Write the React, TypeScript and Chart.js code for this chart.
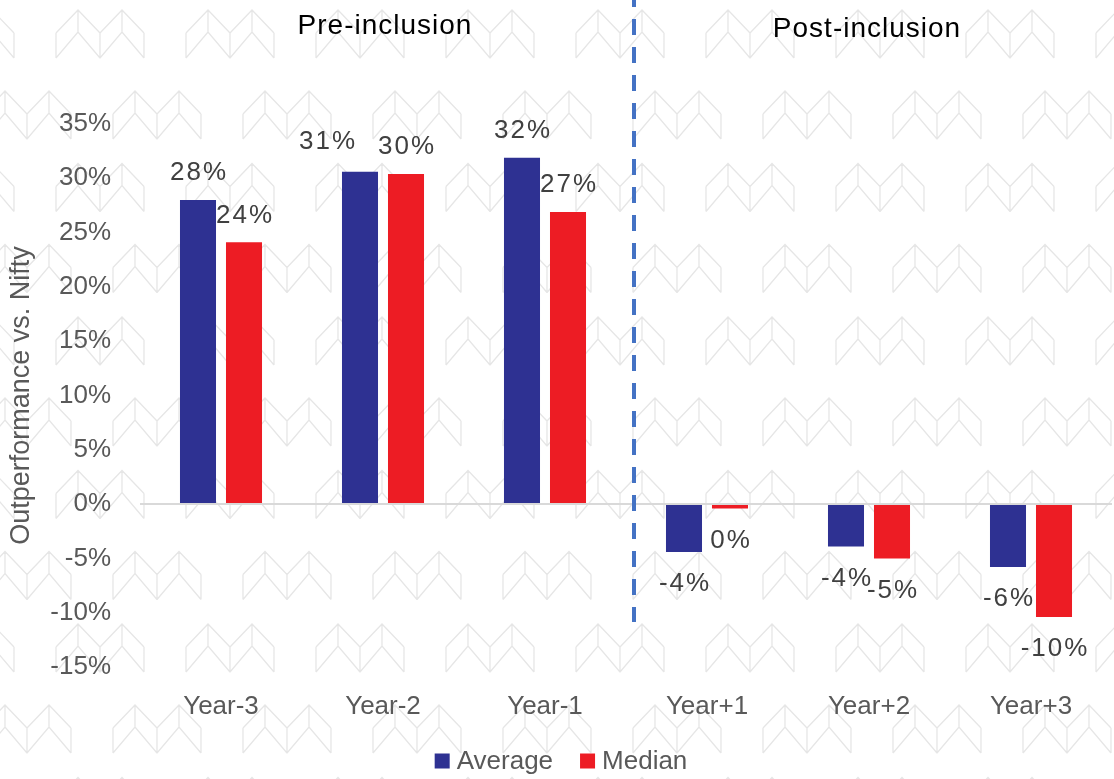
import React, { useEffect, useRef } from "react";
import { Chart, registerables } from "chart.js";

Chart.register(...registerables);

// Chart data (percent outperformance vs. Nifty)
const categories = ["Year-3", "Year-2", "Year-1", "Year+1", "Year+2", "Year+3"];
const averageValues = [28.0, 30.6, 31.9, -4.4, -3.9, -5.8];
const medianValues = [24.1, 30.4, 26.9, -0.4, -5.0, -10.4];
const seriesNames = ["Average", "Median"];
const sectionTitles = ["Pre-inclusion", "Post-inclusion"];
const axisTitle = "Outperformance vs. Nifty";
const yMin = -15;
const yMax = 35;
const yStep = 5;

const BLUE = "#2E3192";
const RED = "#ED1C24";
const FONT = "'Liberation Sans', Arial, sans-serif";

// Light chevron pattern painted behind everything
const backgroundPattern = {
  id: "backgroundPattern",
  beforeDraw(chart: any) {
    const { ctx, width, height } = chart;
    ctx.save();
    ctx.fillStyle = "#ffffff";
    ctx.fillRect(0, 0, width, height);
    ctx.strokeStyle = "#e6e6e6";
    ctx.lineWidth = 1.3;
    const colStep = 130;
    const rowStep = 153.5;
    const chevron = (x: number, p: number) => {
      ctx.moveTo(x, p + 23);
      ctx.lineTo(x + 22, p);
      ctx.lineTo(x + 44, p + 23);
      ctx.moveTo(x, p + 48);
      ctx.lineTo(x + 22, p + 22);
      ctx.lineTo(x + 44, p + 48);
      ctx.moveTo(x, p + 23);
      ctx.lineTo(x, p + 48);
      ctx.moveTo(x + 22, p);
      ctx.lineTo(x + 22, p + 22);
      ctx.moveTo(x + 44, p + 23);
      ctx.lineTo(x + 44, p + 48);
    };
    ctx.beginPath();
    for (let r = 0; r < 8; r++) {
      for (let parity = 0; parity < 2; parity++) {
        const peak = (parity ? 91 : 10) + r * rowStep;
        if (peak > height) continue;
        const start = parity ? 113 : 56;
        for (let x0 = start - colStep; x0 < width; x0 += colStep) {
          chevron(x0, peak);
          chevron(x0 + 44, peak);
        }
      }
    }
    ctx.stroke();
    ctx.restore();
  },
};

// Value labels beside each bar end
const valueLabels = {
  id: "valueLabels",
  afterDatasetsDraw(chart: any, _args: any, opts: any) {
    const { ctx } = chart;
    const nudges = opts.nudges || {};
    ctx.save();
    ctx.font = `26px ${FONT}`;
    (ctx as any).letterSpacing = "2px";
    ctx.fillStyle = "#404040";
    ctx.textAlign = "center";
    ctx.textBaseline = "middle";
    chart.data.datasets.forEach((ds: any, di: number) => {
      const meta = chart.getDatasetMeta(di);
      meta.data.forEach((bar: any, i: number) => {
        const v = ds.data[i];
        const text = `${Math.round(v)}%`;
        const n = nudges[`${di}-${i}`] || { dx: 0, dy: 0 };
        const y = v >= 0 ? bar.y - 27 : bar.y + 32;
        ctx.fillText(text, bar.x + 1 + n.dx, y + n.dy);
      });
    });
    ctx.restore();
  },
};

// Section divider, section headings and the legend
const annotations = {
  id: "annotations",
  afterDraw(chart: any) {
    const { ctx, chartArea } = chart;
    const x = chart.scales.x;
    ctx.save();

    // dashed divider between pre and post periods
    const divX = (x.getPixelForValue(2) + x.getPixelForValue(3)) / 2 + 8;
    ctx.strokeStyle = "#4472C4";
    ctx.lineWidth = 4;
    ctx.setLineDash([16, 12]);
    ctx.lineDashOffset = 9;
    ctx.beginPath();
    ctx.moveTo(divX, 0);
    ctx.lineTo(divX, chartArea.top + 498);
    ctx.stroke();
    ctx.setLineDash([]);

    // section headings
    ctx.fillStyle = "#000000";
    ctx.font = `28px ${FONT}`;
    (ctx as any).letterSpacing = "1px";
    ctx.textAlign = "center";
    ctx.textBaseline = "alphabetic";
    const preX = (x.getPixelForValue(0) + x.getPixelForValue(2)) / 2;
    const postX = (x.getPixelForValue(3) + x.getPixelForValue(5)) / 2;
    ctx.fillText(sectionTitles[0], preX + 2, 34);
    ctx.fillText(sectionTitles[1], postX - 2, 37);

    // legend
    (ctx as any).letterSpacing = "0px";
    ctx.font = `26px ${FONT}`;
    ctx.textAlign = "left";
    ctx.textBaseline = "middle";
    const colors = [BLUE, RED];
    const box = 15;
    const gap = 7;
    const itemGap = 27;
    const widths = seriesNames.map((s) => ctx.measureText(s).width);
    const total = widths.reduce((a, w) => a + box + gap + w, 0) + itemGap * (seriesNames.length - 1);
    let lx = chart.width / 2 + 4 - total / 2;
    const ly = 761;
    seriesNames.forEach((s, i) => {
      ctx.fillStyle = colors[i];
      ctx.fillRect(lx, ly - box / 2, box, box);
      ctx.fillStyle = "#595959";
      ctx.fillText(s, lx + box + gap, ly + 1);
      lx += box + gap + widths[i] + itemGap;
    });
    ctx.restore();
  },
};

export default function App() {
  const canvasRef = useRef<HTMLCanvasElement | null>(null);

  useEffect(() => {
    if (!canvasRef.current) return;
    const chart = new Chart(canvasRef.current, {
      type: "bar",
      data: {
        labels: categories,
        datasets: [
          {
            label: seriesNames[0],
            data: averageValues,
            backgroundColor: BLUE,
            categoryPercentage: 0.568,
            barPercentage: 0.783,
          },
          {
            label: seriesNames[1],
            data: medianValues,
            backgroundColor: RED,
            categoryPercentage: 0.568,
            barPercentage: 0.783,
          },
        ],
      },
      options: {
        animation: false,
        responsive: false,
        devicePixelRatio: 1,
        layout: { padding: { top: 124, right: 2, left: 0, bottom: 0 } },
        plugins: {
          legend: { display: false },
          tooltip: { enabled: false },
          valueLabels: { nudges: { "0-1": { dx: -33, dy: -3 } } },
        } as any,
        scales: {
          x: {
            grid: { display: false, drawTicks: false },
            border: { display: false },
            ticks: {
              color: "#595959",
              font: { family: FONT, size: 26 },
              padding: 24,
            },
            afterFit: (scale: any) => {
              scale.height = 112;
            },
          },
          y: {
            min: yMin,
            max: yMax,
            border: { display: false },
            grid: {
              drawTicks: false,
              lineWidth: 2,
              color: (c: any) => (c.tick && c.tick.value === 0 ? "#d9d9d9" : "rgba(0,0,0,0)"),
            },
            ticks: {
              stepSize: yStep,
              color: "#595959",
              font: { family: FONT, size: 26 },
              padding: 29,
              callback: (v: any) => `${v}%`,
            },
            title: {
              display: true,
              text: axisTitle,
              color: "#595959",
              font: { family: FONT, size: 27 },
              padding: { top: 5, bottom: 0 },
            },
            afterFit: (scale: any) => {
              scale.width = 140;
            },
          },
        },
      },
      plugins: [backgroundPattern, valueLabels, annotations],
    });
    return () => chart.destroy();
  }, []);

  return (
    <div
      style={{
        position: "fixed",
        left: 0,
        top: 0,
        width: 1114,
        height: 779,
        background: "#ffffff",
      }}
    >
      <canvas ref={canvasRef} width={1114} height={779} style={{ display: "block" }} />
    </div>
  );
}
